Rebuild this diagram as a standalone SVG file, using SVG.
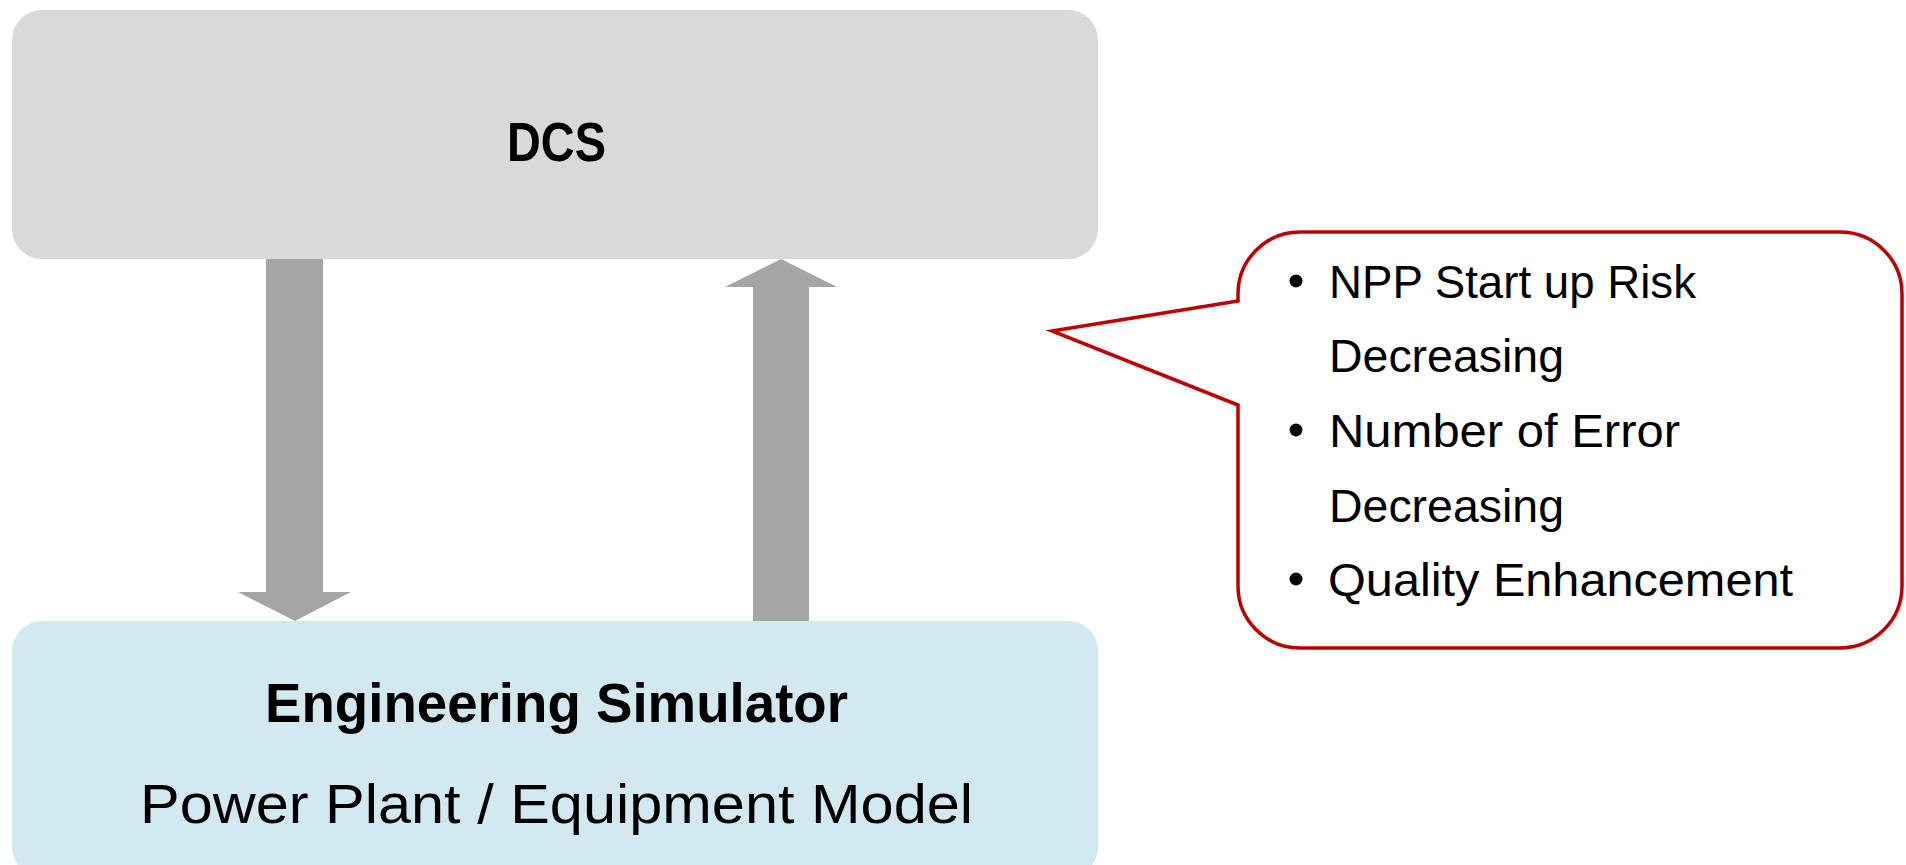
<svg xmlns="http://www.w3.org/2000/svg" width="1906" height="865" viewBox="0 0 1906 865">
  <style>
    .arrow { fill: #a5a5a5; }
    .title { font-family: "Liberation Sans", Arial, sans-serif; font-weight: bold; font-size: 56px; fill: #000; }
    .sub { font-family: "Liberation Sans", Arial, sans-serif; font-size: 56px; fill: #000; }
    .item { font-family: "Liberation Sans", Arial, sans-serif; font-size: 46px; fill: #000; }
  </style>
  <rect width="1906" height="865" fill="#ffffff"/>
  <g id="dcs">
    <rect x="12" y="10" width="1086" height="249" rx="30" ry="30" fill="#d9d9d9"/>
    <text class="title" x="507" y="161" textLength="99" lengthAdjust="spacingAndGlyphs">DCS</text>
  </g>
  <g id="engineering-simulator">
    <rect x="12" y="621" width="1086" height="256" rx="30" ry="30" fill="#d2e9ef"/>
    <text class="title" x="265" y="722" textLength="583" lengthAdjust="spacingAndGlyphs">Engineering Simulator</text>
    <text class="sub" x="140" y="823" textLength="833" lengthAdjust="spacingAndGlyphs">Power Plant / Equipment Model</text>
  </g>
  <g id="connectors">
    <polygon class="arrow" points="266,259 323,259 323,592 351,592 295,621 238,592 266,592"/>
    <polygon class="arrow" points="753,621 809,621 809,287 837,287 781,259 725,287 753,287"/>
  </g>
  <g id="callout">
    <path d="M1238,301 L1238,294 A62,62 0 0 1 1300,232 L1840,232 A62,62 0 0 1 1902,294 L1902,586 A62,62 0 0 1 1840,648 L1300,648 A62,62 0 0 1 1238,586 L1238,405 L1052,331 Z" fill="#ffffff" stroke="#c00000" stroke-width="3.5" stroke-linejoin="miter"/>
    <circle cx="1296" cy="281" r="6.5" fill="#000"/>
    <circle cx="1296" cy="430" r="6.5" fill="#000"/>
    <circle cx="1296" cy="579" r="6.5" fill="#000"/>
    <text class="item" x="1329" y="298" textLength="367" lengthAdjust="spacingAndGlyphs">NPP Start up Risk</text>
    <text class="item" x="1329" y="372" textLength="235" lengthAdjust="spacingAndGlyphs">Decreasing</text>
    <text class="item" x="1329" y="447" textLength="351" lengthAdjust="spacingAndGlyphs">Number of Error</text>
    <text class="item" x="1329" y="522" textLength="235" lengthAdjust="spacingAndGlyphs">Decreasing</text>
    <text class="item" x="1328" y="596" textLength="465" lengthAdjust="spacingAndGlyphs">Quality Enhancement</text>
  </g>
</svg>
